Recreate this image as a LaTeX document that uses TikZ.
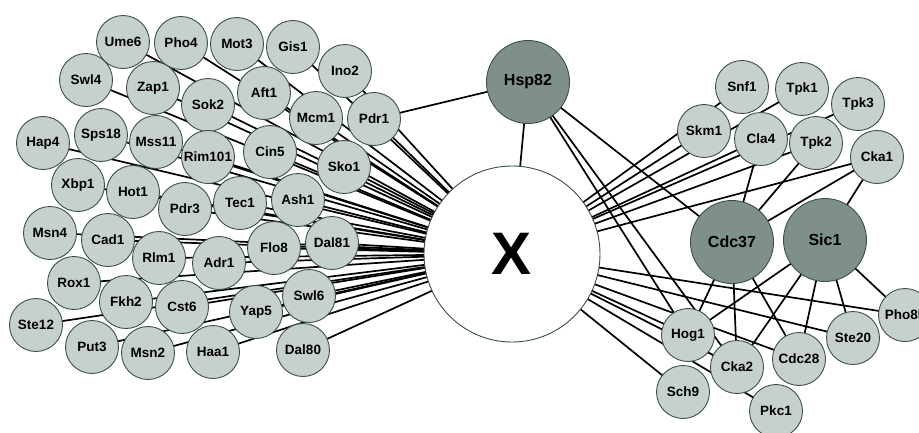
\documentclass[tikz,border=0pt]{standalone}
\usepackage{fontspec}
\setmainfont{Liberation Sans}
\usetikzlibrary{backgrounds}
\definecolor{nfill}{HTML}{C6D0CC}
\definecolor{dfill}{HTML}{7F8F8B}
\definecolor{nborder}{HTML}{3A4F4B}
\begin{document}
\begin{tikzpicture}[x=1pt,y=-1pt,
  small/.style={circle,draw=nborder,line width=0.9pt,fill=nfill,minimum size=53pt,inner sep=0pt,font=\fontsize{13.5}{14}\selectfont\bfseries},
  big/.style={circle,draw=nborder,line width=0.9pt,fill=dfill,minimum size=83pt,inner sep=0pt,font=\fontsize{16}{18}\selectfont\bfseries},
  hub/.style={circle,draw=nborder,line width=0.9pt,fill=white,minimum size=176pt,inner sep=0pt,font=\fontsize{60}{60}\selectfont\bfseries},
  edge/.style={line width=1.7pt,black}]
\useasboundingbox (0,0) rectangle (919,432);
\clip (0,0) rectangle (919,432);
\node[hub] (X) at (512,254) {X};
\node[big] (Hsp82) at (528,82) {Hsp82};
\node[big] (Cdc37) at (732,242) {Cdc37};
\node[big] (Sic1) at (825,240) {Sic1};
\foreach \n/\x/\y in {Ume6/123/42,Pho4/181/43,Mot3/237/44,Gis1/293/47,Ino2/345/71,
  Swl4/86/80,Zap1/153/88,Sok2/208/105,Aft1/264/93,Mcm1/316/118,Pdr1/374/119,
  Hap4/43/143,Sps18/101/135,Mss11/156/142,Rim101/208/157,Cin5/270/152,Sko1/344/167,
  Xbp1/78/185,Hot1/133/192,Pdr3/185/209,Tec1/240/203,Ash1/298/200,
  Msn4/50/233,Cad1/108/240,Rlm1/159/258,Adr1/219/263,Flo8/274/248,Dal81/332/243,
  Rox1/74/283,Fkh2/126/302,Cst6/182/307,Yap5/256/312,Swl6/309/296,
  Ste12/36/325,Put3/92/347,Msn2/148/353,Haa1/213/352,Dal80/303/350,
  Snf1/742/87,Tpk1/802/89,Tpk3/858/104,Skm1/704/131,Cla4/761/139,Tpk2/816/143,Cka1/877/157,
  Hog1/688/335,Cka2/737/367,Cdc28/799/359,Ste20/853/338,Pho85/905/315,Sch9/683/392,Pkc1/776/411}
  \node[small] (\n) at (\x,\y) {\n};
\begin{scope}[on background layer]
\foreach \n in {Ume6,Pho4,Mot3,Gis1,Ino2,Swl4,Zap1,Sok2,Aft1,Mcm1,Pdr1,
  Hap4,Sps18,Mss11,Rim101,Cin5,Sko1,Xbp1,Hot1,Pdr3,Tec1,Ash1,
  Msn4,Cad1,Rlm1,Adr1,Flo8,Dal81,Rox1,Fkh2,Cst6,Yap5,Swl6,
  Ste12,Put3,Msn2,Haa1,Dal80,
  Hsp82,Skm1,Snf1,Tpk1,Cla4,Tpk3,Tpk2,Cka1,
  Pho85,Ste20,Cdc28,Hog1,Cka2,Pkc1,Sch9}
  \draw[edge] (X.center) -- (\n.center);
\foreach \a/\b in {Hsp82/Pdr1,Hsp82/Cdc37,Hsp82/Hog1,Hsp82/Cka2,
  Cla4/Cdc37,Tpk2/Cdc37,Cdc37/Cka1,Cka1/Sic1,
  Cdc37/Hog1,Cdc37/Cka2,Cdc37/Cdc28,
  Sic1/Hog1,Sic1/Cka2,Sic1/Cdc28,Sic1/Ste20,Sic1/Pho85}
  \draw[edge] (\a.center) -- (\b.center);
\end{scope}
\end{tikzpicture}
\end{document}
